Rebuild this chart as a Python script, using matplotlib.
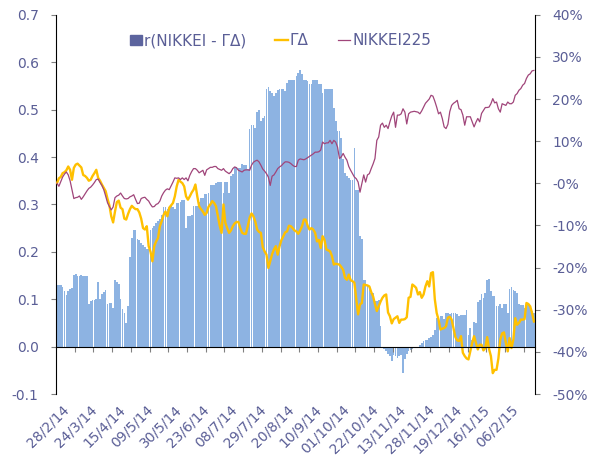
import matplotlib
matplotlib.use("Agg")
import matplotlib.pyplot as plt
import matplotlib.transforms as mtransforms
from matplotlib.ticker import FormatStrFormatter, PercentFormatter
from matplotlib.patches import Patch
from matplotlib.lines import Line2D
import numpy as np

# daily values, 28/2/14 .. end of Feb 2015 (256 trading days)
r_nikkei_gd = [
    0.130, 0.130, 0.130, 0.125, 0.117, 0.108, 0.118, 0.121, 0.124, 0.152,
    0.154, 0.149, 0.149, 0.152, 0.149, 0.149, 0.150, 0.089, 0.097, 0.099,
    0.099, 0.100, 0.136, 0.100, 0.110, 0.115, 0.120, 0.089, 0.091, 0.091,
    0.082, 0.140, 0.137, 0.133, 0.100, 0.080, 0.071, 0.050, 0.086, 0.190,
    0.229, 0.247, 0.247, 0.227, 0.225, 0.219, 0.215, 0.210, 0.205, 0.205,
    0.247, 0.250, 0.255, 0.260, 0.264, 0.270, 0.278, 0.295, 0.295, 0.290,
    0.290, 0.297, 0.295, 0.290, 0.303, 0.303, 0.305, 0.310, 0.310, 0.250,
    0.275, 0.275, 0.278, 0.297, 0.297, 0.297, 0.305, 0.314, 0.314, 0.323,
    0.323, 0.325, 0.342, 0.342, 0.342, 0.346, 0.347, 0.347, 0.347, 0.324,
    0.347, 0.347, 0.324, 0.359, 0.365, 0.379, 0.379, 0.377, 0.377, 0.386,
    0.383, 0.383, 0.375, 0.459, 0.468, 0.468, 0.461, 0.496, 0.500, 0.475,
    0.482, 0.486, 0.544, 0.548, 0.539, 0.534, 0.529, 0.534, 0.542, 0.544,
    0.544, 0.544, 0.539, 0.556, 0.563, 0.563, 0.563, 0.563, 0.570, 0.577,
    0.584, 0.575, 0.562, 0.562, 0.560, 0.553, 0.553, 0.562, 0.562, 0.562,
    0.553, 0.553, 0.535, 0.544, 0.544, 0.544, 0.544, 0.544, 0.503, 0.475,
    0.454, 0.454, 0.440, 0.395, 0.366, 0.359, 0.355, 0.351, 0.351, 0.419,
    0.331, 0.331, 0.233, 0.226, 0.141, 0.141, 0.127, 0.127, 0.114, 0.114,
    0.096, 0.097, 0.099, 0.043, -0.002, -0.005, -0.010, -0.015, -0.020, -0.031,
    -0.017, -0.020, -0.024, -0.020, -0.017, -0.056, -0.027, -0.015, -0.010, -0.008,
    -0.005, -0.003, -0.003, -0.001, 0.003, 0.008, 0.011, 0.014, 0.014, 0.018,
    0.020, 0.025, 0.036, 0.060, 0.059, 0.064, 0.064, 0.059, 0.070, 0.071,
    0.068, 0.071, 0.071, 0.070, 0.068, 0.064, 0.067, 0.067, 0.067, 0.078,
    0.025, 0.039, 0.015, 0.051, 0.050, 0.094, 0.099, 0.110, 0.103, 0.113,
    0.141, 0.142, 0.117, 0.106, 0.106, 0.085, 0.085, 0.089, 0.082, 0.089,
    0.089, 0.071, 0.122, 0.126, 0.120, 0.117, 0.113, 0.089, 0.087, 0.087,
    0.082, 0.090, 0.092, 0.085, 0.075, 0.071,
]

gamma_delta = [
    0.345, 0.355, 0.358, 0.366, 0.368, 0.372, 0.380, 0.373, 0.352, 0.377,
    0.384, 0.386, 0.382, 0.378, 0.362, 0.360, 0.356, 0.350, 0.352, 0.360,
    0.366, 0.373, 0.356, 0.350, 0.342, 0.335, 0.328, 0.312, 0.298, 0.275,
    0.262, 0.285, 0.305, 0.308, 0.293, 0.290, 0.270, 0.268, 0.280, 0.290,
    0.297, 0.293, 0.290, 0.290, 0.283, 0.270, 0.250, 0.247, 0.254, 0.212,
    0.200, 0.180, 0.212, 0.222, 0.229, 0.254, 0.265, 0.278, 0.285, 0.275,
    0.293, 0.298, 0.303, 0.317, 0.338, 0.352, 0.348, 0.345, 0.338, 0.317,
    0.310, 0.317, 0.325, 0.331, 0.342, 0.317, 0.296, 0.290, 0.285, 0.278,
    0.282, 0.295, 0.300, 0.307, 0.303, 0.296, 0.275, 0.255, 0.240, 0.300,
    0.261, 0.250, 0.240, 0.245, 0.254, 0.260, 0.263, 0.263, 0.250, 0.240,
    0.238, 0.238, 0.254, 0.272, 0.281, 0.275, 0.264, 0.247, 0.242, 0.240,
    0.210, 0.201, 0.194, 0.166, 0.180, 0.195, 0.205, 0.212, 0.194, 0.212,
    0.225, 0.233, 0.241, 0.243, 0.255, 0.254, 0.250, 0.245, 0.243, 0.238,
    0.245, 0.254, 0.268, 0.268, 0.255, 0.247, 0.250, 0.247, 0.240, 0.222,
    0.225, 0.208, 0.233, 0.225, 0.205, 0.203, 0.201, 0.191, 0.173, 0.175,
    0.174, 0.173, 0.168, 0.162, 0.145, 0.141, 0.152, 0.140, 0.138, 0.135,
    0.100, 0.068, 0.089, 0.092, 0.131, 0.130, 0.129, 0.127, 0.115, 0.106,
    0.090, 0.075, 0.085, 0.095, 0.103, 0.108, 0.110, 0.072, 0.064, 0.049,
    0.058, 0.061, 0.064, 0.050, 0.057, 0.057, 0.058, 0.062, 0.103, 0.105,
    0.131, 0.128, 0.124, 0.110, 0.115, 0.103, 0.110, 0.127, 0.138, 0.127,
    0.155, 0.157, 0.100, 0.071, 0.057, 0.036, 0.038, 0.039, 0.043, 0.061,
    0.063, 0.057, 0.039, 0.020, 0.013, 0.012, 0.022, -0.013, -0.020, -0.025,
    -0.027, -0.010, 0.008, 0.022, 0.008, -0.006, 0.004, 0.004, -0.008, -0.003,
    0.020, -0.005, -0.020, -0.056, -0.049, -0.049, -0.025, 0.015, 0.028, 0.030,
    0.008, -0.010, 0.018, -0.003, 0.015, 0.060, 0.046, 0.050, 0.057, 0.057,
    0.058, 0.092, 0.090, 0.085, 0.071, 0.053,
]

# NIKKEI225 cumulative return, in percent
nikkei225_pct = [
    0.0, -0.7, 0.4, 1.5, 2.2, 2.7, 2.0, 0.6, -1.5, -3.6,
    -3.4, -3.3, -3.0, -3.8, -3.2, -2.5, -1.8, -1.2, -0.9, -0.4,
    0.2, 0.9, 1.0, 0.2, -0.5, -1.5, -3.0, -4.6, -5.5, -6.3,
    -5.6, -3.4, -3.0, -2.8, -2.3, -3.0, -3.6, -3.7, -3.6, -3.2,
    -3.0, -2.7, -3.8, -4.8, -4.7, -3.6, -3.4, -3.3, -3.8, -4.2,
    -5.0, -5.6, -5.5, -5.0, -4.8, -4.2, -3.0, -2.2, -1.6, -1.3,
    -1.5, -0.6, 0.3, 1.3, 1.2, 1.3, 0.9, 1.3, 0.9, 1.3,
    0.6, 1.9, 2.8, 3.5, 3.5, 3.1, 2.5, 2.8, 3.1, 1.9,
    3.2, 3.5, 3.8, 3.8, 4.0, 4.0, 3.5, 3.3, 3.1, 3.5,
    2.9, 2.6, 2.3, 2.7, 3.5, 3.9, 3.7, 3.1, 2.9, 2.7,
    3.1, 3.2, 3.2, 3.1, 4.3, 5.0, 5.3, 5.5, 5.1, 4.3,
    3.4, 2.9, 2.3, 1.5, -0.5, 1.7, 2.0, 2.7, 3.5, 3.9,
    4.2, 4.7, 5.1, 5.1, 5.0, 4.7, 4.3, 4.0, 4.0, 5.5,
    5.8, 5.7, 5.6, 5.8, 6.1, 6.4, 6.7, 7.0, 7.4, 7.4,
    7.5, 7.9, 9.8, 9.4, 9.6, 9.6, 10.2, 9.4, 10.2, 9.8,
    8.6, 5.9, 6.3, 7.1, 6.2, 5.5, 4.0, 3.1, 2.3, 1.5,
    1.1, 0.3, -2.1, 0.0, 2.0, 0.3, 2.0, 2.3, 3.5, 4.6,
    5.9, 10.2, 11.0, 13.8, 14.3, 13.3, 13.8, 13.0, 14.6, 16.0,
    16.9, 13.3, 16.2, 16.2, 16.5, 17.7, 16.9, 14.1, 16.5, 16.9,
    17.0, 17.1, 17.0, 16.9, 16.5, 17.2, 18.1, 19.0, 19.5, 20.0,
    20.9, 20.7, 19.5, 18.1, 16.5, 16.9, 15.4, 13.4, 13.0, 14.0,
    17.0, 18.5, 19.0, 19.3, 19.7, 17.7, 17.5, 16.2, 13.8, 15.8,
    15.8, 15.8, 14.6, 13.4, 14.5, 15.4, 14.6, 16.6, 17.3, 18.0,
    18.0, 18.1, 18.9, 20.1, 19.1, 19.3, 17.7, 16.9, 18.9, 18.7,
    18.5, 19.3, 18.9, 18.9, 19.3, 20.9, 21.3, 22.1, 22.5, 23.3,
    23.7, 24.9, 25.7, 26.0, 26.7, 26.8,
]

date_labels = ["28/2/14", "24/3/14", "15/4/14", "09/5/14", "30/5/14", "23/6/14",
               "08/7/14", "29/7/14", "20/8/14", "10/9/14", "01/10/14", "22/10/14",
               "13/11/14", "28/11/14", "19/12/14", "16/1/15", "06/2/15"]
label_step = 15
tick_step = 10

text_col = "#5a5e96"
bar_col = "#8db3e2"
gold = "#ffc000"
wine = "#a0457a"

plt.rcParams["axes.unicode_minus"] = False
plt.rcParams["font.family"] = "DejaVu Sans"

n = len(r_nikkei_gd)
x = np.arange(n)

fig = plt.figure(figsize=(6.03, 4.63), dpi=100)
ax = fig.add_axes([0.093, 0.149, 0.794, 0.819])

ax.bar(x, r_nikkei_gd, width=0.9, color=bar_col, linewidth=0, zorder=1)
ax.plot(x, gamma_delta, color=gold, linewidth=1.7, zorder=3)

ax.set_xlim(-0.5, n - 0.5)
ax.set_ylim(-0.1, 0.7)
ax.set_yticks(np.arange(-0.1, 0.71, 0.1))
ax.yaxis.set_major_formatter(FormatStrFormatter("%.1f"))

ax.spines["top"].set_visible(False)
ax.spines["right"].set_visible(False)
ax.spines["bottom"].set_position(("data", 0))
ax.spines["bottom"].set_zorder(4)
ax.set_xticks(np.arange(tick_step - 0.5, n, tick_step))
ax.set_xticklabels([])
ax.tick_params(axis="x", direction="out", length=3.5, color="#808080")
ax.tick_params(axis="y", direction="out", length=3.5, color="#808080",
               labelsize=10, labelcolor=text_col, pad=9)

# date labels sit at the bottom of the plot, the axis line stays at zero
sec = ax.secondary_xaxis("bottom")
sec.set_xticks(np.arange(0, len(date_labels) * label_step, label_step))
lbls = sec.set_xticklabels(date_labels, rotation=45, ha="right", rotation_mode="anchor")
sec.tick_params(length=0, labelsize=10, labelcolor=text_col, pad=6)
sec.spines["bottom"].set_visible(False)
shift = mtransforms.ScaledTranslation(5 / 100, 0, fig.dpi_scale_trans)
for lb in lbls:
    lb.set_transform(lb.get_transform() + shift)

ax2 = ax.twinx()
ax2.plot(x, np.array(nikkei225_pct) / 100, color=wine, linewidth=0.9, zorder=3)
ax2.set_ylim(-0.5, 0.4)
ax2.set_yticks(np.arange(-0.5, 0.41, 0.1))
ax2.yaxis.set_major_formatter(PercentFormatter(1.0, decimals=0))
ax2.tick_params(axis="y", direction="out", length=3.5, color="#808080",
                labelsize=10, labelcolor=text_col, pad=9)
for s in ["top", "bottom", "left"]:
    ax2.spines[s].set_visible(False)

handles = [Patch(facecolor="#5c649e", edgecolor="#5c649e"),
           Line2D([], [], color=gold, linewidth=1.7),
           Line2D([], [], color=wine, linewidth=0.9)]
ax.legend(handles, ["r(NIKKEI - ΓΔ)", "ΓΔ", "NIKKEI225"], ncol=3, frameon=False,
          loc="center left", bbox_to_anchor=(0.125, 0.932), fontsize=11,
          labelcolor=text_col, handlelength=0.8, handleheight=0.65,
          handletextpad=0.15, columnspacing=1.9)

fig.savefig("out.png", dpi=100)
